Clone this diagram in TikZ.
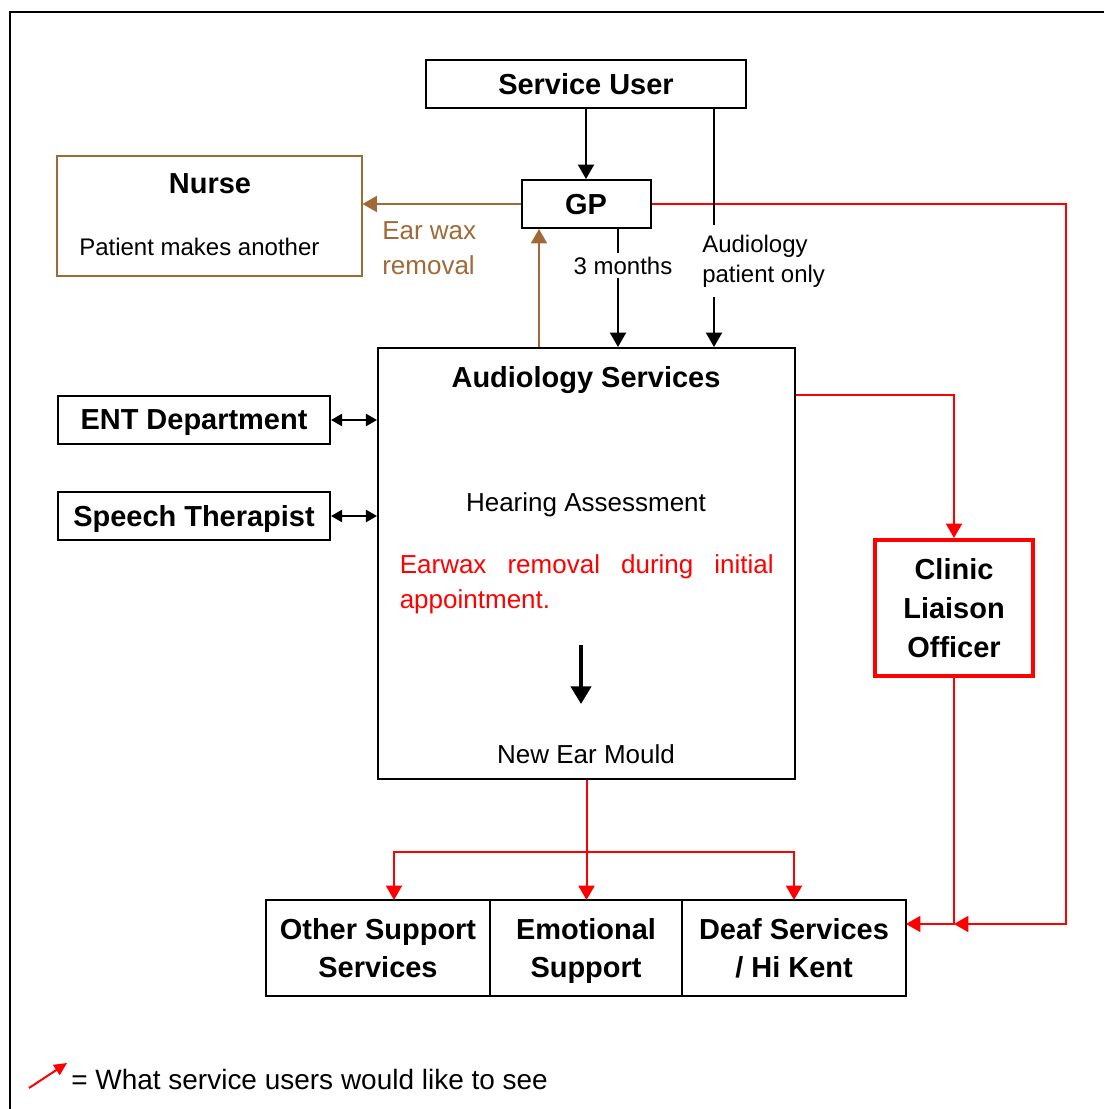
\documentclass[tikz,border=0pt]{standalone}
\usepackage{fontspec}
\setmainfont{Liberation Sans}
\usetikzlibrary{arrows.meta,positioning,calc}
\definecolor{waxbrown}{RGB}{160,105,55}

\begin{document}
\begin{tikzpicture}[x=0.25mm, y=-0.25mm,
  svcbox/.style={draw, line width=0.5mm, minimum height=12mm, align=center, inner sep=2pt, text depth=0pt, font=\fontsize{20.6}{27.5}\selectfont\bfseries},
  endbox/.style={svcbox, minimum height=24mm, outer sep=0pt},
  nursebox/.style={draw=waxbrown, line width=0.5mm, minimum width=76mm, minimum height=30mm},
  bigbox/.style={draw, line width=0.5mm, minimum width=104.25mm, minimum height=107.75mm},
  officerbox/.style={draw=red, line width=1mm, minimum width=39.6mm, minimum height=34mm, align=center, font=\fontsize{20.6}{27.5}\selectfont\bfseries},
  heading/.style={inner sep=0pt, font=\fontsize{20.6}{27.5}\selectfont\bfseries},
  body/.style={inner sep=0pt, font=\fontsize{18.5}{24.8}\selectfont},
  plain/.style={inner sep=0pt, font=\fontsize{17.07}{21.5}\selectfont},
  arr/.style={-{Triangle[length=3.6mm, width=4mm]}, line width=0.5mm},
  redarr/.style={arr, red},
  waxarr/.style={arr, waxbrown},
  twoway/.style={{Triangle[length=2.75mm, width=3mm]}-{Triangle[length=2.75mm, width=3mm]}, line width=0.5mm}]
  \useasboundingbox (0,0) rectangle (1104,1109);
  % Frame (runs off the page at right and bottom)
  \draw[line width=0.5mm] (1104,12) -- (10,12) -- (10,1109);
  % Service User and GP
  \node[svcbox, minimum width=80mm] (user) at (586,84) {Service User};
  \node[svcbox, minimum width=32.25mm, below=17.5mm of user] (gp) {GP};
  % Nurse (left of GP)
  \node[nursebox] (nurse) at (209.5,216) {};
  \node[heading, anchor=base] (nursetitle) at (210,193) {Nurse};
  \node[plain, anchor=base west] (nursenote) at (79,255) {Patient makes another};
  % Audiology Services
  \node[bigbox] (audio) at (586.5,563.5) {};
  \node[heading, anchor=base] (audtitle) at (586,387) {Audiology Services};
  \node[body, anchor=base] (hearing) at (586,511) {Hearing Assessment};
  \node[body, text=red, align=left, anchor=north west] (earwax) at (399.5,554)
    {\makebox[93.5mm][s]{Earwax removal during initial}\\appointment.};
  \node[body, anchor=base] (mould) at (586,763) {New Ear Mould};
  \coordinate (stepfrom) at (581,645);
  \coordinate (stepto) at (581,704);
  \draw[line width=1mm, -{Triangle[length=4.4mm, width=5mm]}] (stepfrom) -- (stepto);
  % ENT and Speech Therapist
  \node[svcbox, minimum width=68mm] (ent) at (194,420) {ENT Department};
  \node[svcbox, minimum width=68mm, below=11.5mm of ent] (speech) {Speech Therapist};
  \draw[twoway] (ent.east) -- (audio.west |- ent.east);
  \draw[twoway] (speech.east) -- (audio.west |- speech.east);
  % Clinic Liaison Officer
  \node[officerbox] (clinic) at (954,608) {Clinic\\Liaison\\Officer};
  % Support services along the bottom
  \node[endbox, minimum width=56mm] (other) at (378,948) {Other Support\\Services};
  \node[endbox, minimum width=48mm, right=0mm of other] (emot) {Emotional\\Support};
  \node[endbox, minimum width=56mm, right=0mm of emot] (deaf) {Deaf Services\\/ Hi Kent};
  \coordinate (deafin) at ([yshift=-6mm]deaf.north east);
  \coordinate (split) at (audio.south |- 0,852);
  % Red links (what service users would like to see)
  \draw[redarr] (gp.east) -- (1066,0 |- gp.east) -- (1066,0 |- deafin) -- (clinic.south |- deafin);
  \draw[redarr] (clinic.south) -- (clinic.south |- deafin) -- (deafin);
  \draw[redarr] (audio.east |- 0,395) -- (clinic.north |- 0,395) -- (clinic.north);
  \draw[redarr] (audio.south) -- (audio.south |- emot.north);
  \draw[redarr] (split) -| (394,0 |- other.north);
  \draw[redarr] (split) -| (deaf.north);
  % Black links
  \draw[arr] (gp.north |- user.south) -- (gp.north);
  \draw[arr] (714,0 |- user.south) -- (714,0 |- audio.north);
  \node[plain, fill=white, align=left, anchor=north west, inner ysep=2.5mm, inner xsep=0.5mm] (direct) at (700,224.5) {Audiology\\patient only};
  \draw[arr] (618,0 |- gp.south) -- (618,0 |- audio.north);
  \node[plain, fill=white, anchor=base, inner ysep=1mm, inner xsep=0.5mm] (months) at (623,274) {3 months};
  % Brown links (ear wax)
  \draw[waxarr] (gp.west) -- (nurse.east |- gp.west);
  \draw[waxarr] (539,0 |- audio.north) -- (539,0 |- gp.south);
  \node[body, text=waxbrown, align=left, anchor=north west] (waxlabel) at (382,221.7) {Ear wax\\removal};
  % Legend
  \coordinate (legtail) at (29,1088);
  \coordinate (leghead) at (67,1063);
  \draw[red, line width=0.5mm, -{Triangle[length=3.2mm, width=3mm]}] (legtail) -- (leghead);
  \node[inner sep=0pt, anchor=base west, font=\fontsize{19.9}{24}\selectfont] (legend) at (71,1089) {= What service users would like to see};
\end{tikzpicture}
\end{document}
